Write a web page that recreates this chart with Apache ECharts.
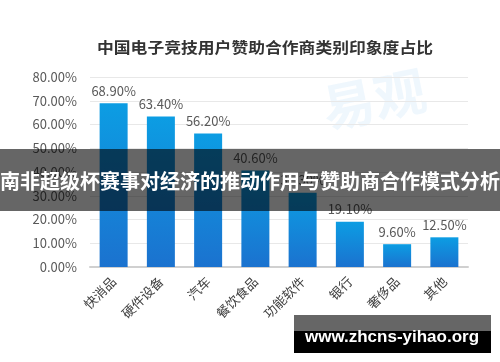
<!DOCTYPE html>
<html>
<head>
<meta charset="utf-8">
<script src="https://cdn.jsdelivr.net/npm/echarts@6/dist/echarts.min.js"></script>
<style>
  html, body { margin: 0; padding: 0; background: #fff; }
  #chart { width: 500px; height: 362px; }
</style>
</head>
<body>
<div id="chart"></div>
<script>
// 数据
const categories = ['快消品', '硬件设备', '汽车', '餐饮食品', '功能软件', '银行', '奢侈品', '其他'];
const values = [68.9, 63.4, 56.2, 40.6, 31.3, 19.1, 9.6, 12.5];
const titleText = '中国电子竞技用户赞助合作商类别印象度占比';
const bannerText = '南非超级杯赛事对经济的推动作用与赞助商合作模式分析';
const siteText = 'www.zhcns-yihao.org';

const font = '"Noto Sans CJK SC", "Noto Sans", sans-serif';
const chart = echarts.init(document.getElementById('chart'));

const option = {
  backgroundColor: '#fff',
  animation: false,
  grid: {
    left: 90,
    right: 32,
    top: 77,
    bottom: 95
  },
  xAxis: {
    type: 'category',
    data: categories,
    axisLine: { lineStyle: { color: '#d0d0d0', width: 2 } },
    axisTick: { show: false },
    axisLabel: {
      rotate: 45,
      margin: 12,
      fontSize: 13,
      color: '#404040',
      fontFamily: font
    }
  },
  yAxis: {
    type: 'value',
    min: 0,
    max: 80,
    interval: 10,
    axisLine: { show: false },
    axisTick: { show: false },
    splitLine: { lineStyle: { color: '#e8e8e8', width: 1 } },
    axisLabel: {
      margin: 13,
      fontSize: 13,
      color: '#595959',
      fontFamily: font,
      formatter: v => v.toFixed(2) + '%'
    }
  },
  series: [
    {
      type: 'bar',
      data: values,
      barWidth: 28,
      z: 2,
      itemStyle: {
        color: {
          type: 'linear',
          x: 0, y: 0, x2: 0, y2: 1,
          colorStops: [
            { offset: 0, color: '#0c9de3' },
            { offset: 1, color: '#1b72cf' }
          ]
        }
      },
      label: {
        show: true,
        position: 'top',
        distance: 6,
        fontSize: 13,
        color: '#595959',
        fontFamily: font,
        formatter: p => p.value.toFixed(2) + '%'
      }
    }
  ],
  graphic: [
    {
      // 淡色水印
      type: 'text',
      x: 318, y: 84,
      rotation: 0.2,
      z: 0,
      style: {
        text: '易观',
        fontSize: 52,
        fontWeight: 'bold',
        fill: 'rgba(30,140,220,0.07)',
        fontFamily: font
      }
    },
    {
      type: 'text',
      x: 265, y: 47,
      scaleX: 1.12,
      style: {
        text: titleText,
        fontSize: 15,
        fontWeight: 'bold',
        fill: '#333',
        fontFamily: font,
        textAlign: 'center',
        textVerticalAlign: 'middle'
      }
    },
    {
      type: 'rect',
      z: 10,
      shape: { x: 0, y: 149, width: 500, height: 62 },
      style: { fill: 'rgba(0,0,0,0.6)' }
    },
    {
      type: 'text',
      z: 11,
      x: 250, y: 181,
      style: {
        text: bannerText,
        fontSize: 20,
        fontWeight: 'bold',
        fill: '#fff',
        fontFamily: font,
        textAlign: 'center',
        textVerticalAlign: 'middle'
      }
    },
    {
      type: 'rect',
      z: 10,
      shape: { x: 294, y: 315, width: 197, height: 16 },
      style: { fill: '#666' }
    },
    {
      type: 'rect',
      z: 10,
      shape: { x: 294, y: 331, width: 197, height: 22 },
      style: { fill: '#000' }
    },
    {
      type: 'text',
      z: 11,
      x: 392, y: 337,
      style: {
        text: siteText,
        fontSize: 17,
        fontWeight: 'bold',
        fill: '#fff',
        fontFamily: '"Liberation Sans", Arial, sans-serif',
        textAlign: 'center',
        textVerticalAlign: 'middle'
      }
    }
  ]
};

chart.setOption(option);
</script>
</body>
</html>
